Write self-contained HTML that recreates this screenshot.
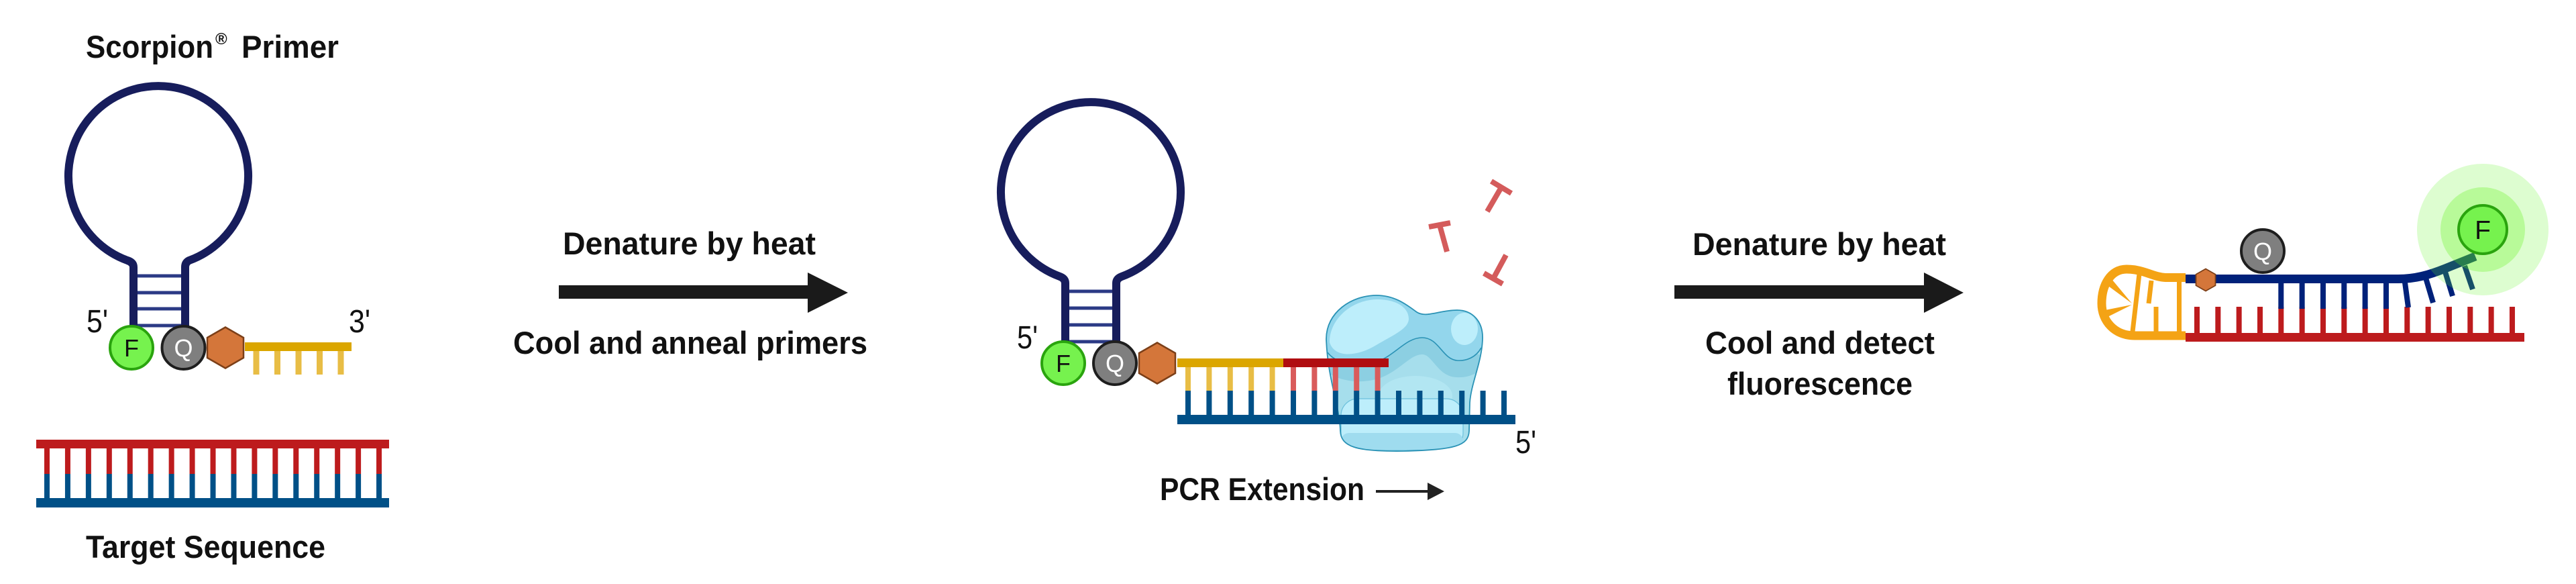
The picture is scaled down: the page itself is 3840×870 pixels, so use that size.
<!DOCTYPE html>
<html>
<head>
<meta charset="utf-8">
<style>
html,body{margin:0;padding:0;background:#ffffff;}
svg{display:block;}
.b{font-family:"Liberation Sans",Arial,sans-serif;font-weight:bold;fill:#111;}
.r{font-family:"Liberation Sans",Arial,sans-serif;fill:#111;}
</style>
</head>
<body>
<svg width="3840" height="870" viewBox="0 0 3840 870" xmlns="http://www.w3.org/2000/svg">
<rect width="3840" height="870" fill="#ffffff"/>
<defs>
<clipPath id="polyClip">
<path d="M1977,505 C1977,465 2015,440 2052,440 C2080,440 2098,455 2112,465 C2126,474 2146,462 2172,462 C2196,462 2211,480 2210,505 C2209,540 2193,570 2191,600 L2190,642 C2189,664 2170,670 2092,672 C2020,673 1999,665 1998,642 C1997,605 1979,565 1977,505 Z"/>
</clipPath>
</defs>

<!-- ================= LEFT: Scorpion primer ================= -->
<text class="b" x="128" y="86" font-size="47" textLength="190" lengthAdjust="spacingAndGlyphs">Scorpion</text>
<text class="b" x="321" y="66" font-size="24">®</text>
<text class="b" x="360" y="86" font-size="47" textLength="145" lengthAdjust="spacingAndGlyphs">Primer</text>

<!-- loop -->
<path d="M199,487 L199,398 Q199,391 190,388 A134,134 0 1 1 282,388 Q276,391 276,398 L276,487" fill="none" stroke="#171d5c" stroke-width="12" stroke-linejoin="round"/>
<g stroke="#2b3a85" stroke-width="5">
<line x1="205" y1="411" x2="270" y2="411"/>
<line x1="205" y1="436" x2="270" y2="436"/>
<line x1="205" y1="460" x2="270" y2="460"/>
<line x1="205" y1="485" x2="270" y2="485"/>
</g>
<text class="r" x="129" y="495" font-size="48" textLength="32" lengthAdjust="spacingAndGlyphs">5'</text>
<text class="r" x="520" y="495" font-size="48" textLength="32" lengthAdjust="spacingAndGlyphs">3'</text>

<!-- yellow primer strand -->
<rect x="365" y="510" width="159" height="13" fill="#dba600"/>
<line x1="377.5" y1="540.5" x2="513" y2="540.5" stroke="#e8bd45" stroke-width="35" stroke-dasharray="9 22.5"/>

<circle cx="196" cy="518" r="32" fill="#76f24e" stroke="#2aa40e" stroke-width="4"/>
<text class="r" x="196" y="531" font-size="36" text-anchor="middle" fill="#111">F</text>
<circle cx="273.5" cy="518" r="32" fill="#7f7f7f" stroke="#1e1e1e" stroke-width="4"/>
<text class="r" x="273.5" y="531" font-size="36" text-anchor="middle" style="fill:#ffffff">Q</text>
<polygon points="336,487.5 363,503 363,533 336,548.5 309,533 309,503" fill="#d4763a" stroke="#7c3f18" stroke-width="2.5"/>

<!-- target sequence -->
<rect x="54" y="655" width="526" height="13" fill="#bd1b1d"/>
<line x1="66" y1="687" x2="570" y2="687" stroke="#bd1b1d" stroke-width="38" stroke-dasharray="8 22.94"/>
<line x1="66" y1="724" x2="570" y2="724" stroke="#005087" stroke-width="36" stroke-dasharray="8 22.94"/>
<rect x="54" y="742" width="526" height="14" fill="#005087"/>
<text class="b" x="128" y="831" font-size="47" textLength="357" lengthAdjust="spacingAndGlyphs">Target Sequence</text>

<!-- ================= ARROW 1 ================= -->
<text class="b" x="839" y="379" font-size="47" textLength="377" lengthAdjust="spacingAndGlyphs">Denature by heat</text>
<rect x="833" y="425" width="373" height="20" fill="#1a1a1a"/>
<polygon points="1204,406 1264,436 1204,466" fill="#1a1a1a"/>
<text class="b" x="765" y="527" font-size="47" textLength="528" lengthAdjust="spacingAndGlyphs">Cool and anneal primers</text>

<!-- ================= MIDDLE ================= -->
<path d="M1588,510 L1588,422 Q1588,415 1580,412 A134,134 0 1 1 1672,412 Q1664,415 1664,422 L1664,510" fill="none" stroke="#171d5c" stroke-width="12" stroke-linejoin="round"/>
<g stroke="#2b3a85" stroke-width="5">
<line x1="1594" y1="434" x2="1658" y2="434"/>
<line x1="1594" y1="459" x2="1658" y2="459"/>
<line x1="1594" y1="484" x2="1658" y2="484"/>
<line x1="1594" y1="509" x2="1658" y2="509"/>
</g>
<text class="r" x="1516" y="519" font-size="48" textLength="31" lengthAdjust="spacingAndGlyphs">5'</text>

<!-- polymerase -->
<path d="M1977,505 C1977,465 2015,440 2052,440 C2080,440 2098,455 2112,465 C2126,474 2146,462 2172,462 C2196,462 2211,480 2210,505 C2209,540 2193,570 2191,600 L2190,642 C2189,664 2170,670 2092,672 C2020,673 1999,665 1998,642 C1997,605 1979,565 1977,505 Z" fill="#a6deec"/>
<g clip-path="url(#polyClip)">
<path d="M1979,537 C1990,552 2020,560 2050,552 C2080,542 2095,515 2120,515 C2145,515 2150,549 2172,549 C2185,550 2200,545 2208,530" fill="none" stroke="#8ccfe2" stroke-width="26"/>
<ellipse cx="2110" cy="590" rx="55" ry="30" fill="#b2e6f2"/>
<path d="M1977,505 C1977,465 2015,440 2052,440 C2080,440 2098,455 2112,465 C2126,474 2146,462 2172,462 C2196,462 2211,480 2210,505 L2208,518 C2200,533 2185,538 2172,537 C2150,535 2145,503 2120,503 C2095,503 2080,530 2050,540 C2020,548 1990,540 1979,525 Z" fill="#93d6ec"/>
<path d="M1982,510 C1982,475 2015,447 2052,446 C2085,446 2100,460 2100,475 C2100,490 2075,500 2050,515 C2025,530 1990,535 1982,510 Z" fill="#bdeefb"/>
<ellipse cx="2183" cy="490" rx="20" ry="24" fill="#bdeefb"/>
<rect x="1999" y="594" width="182" height="76" rx="25" fill="#bdeefb" stroke="#6cc0dc" stroke-width="1.2"/>
<rect x="1999" y="645" width="182" height="25" rx="12" fill="#9fdcef"/>
</g>
<path d="M2208,518 C2200,533 2185,538 2172,537 C2150,535 2145,503 2120,503 C2095,503 2080,530 2050,540 C2020,548 1990,540 1979,525" fill="none" stroke="#2a92b5" stroke-width="1.6"/>
<path d="M1977,505 C1977,465 2015,440 2052,440 C2080,440 2098,455 2112,465 C2126,474 2146,462 2172,462 C2196,462 2211,480 2210,505 C2209,540 2193,570 2191,600 L2190,642 C2189,664 2170,670 2092,672 C2020,673 1999,665 1998,642 C1997,605 1979,565 1977,505 Z" fill="none" stroke="#2a92b5" stroke-width="1.8"/>

<!-- middle DNA -->
<rect x="1755" y="534" width="158" height="13" fill="#dba600"/>
<rect x="1913" y="534" width="157" height="13" fill="#b00d10"/>
<line x1="1767" y1="564.5" x2="1900.6" y2="564.5" stroke="#e8bd45" stroke-width="35" stroke-dasharray="8 23.4"/>
<line x1="1924" y1="564.5" x2="2057.6" y2="564.5" stroke="#d95b5b" stroke-width="35" stroke-dasharray="8 23.4"/>
<line x1="1767" y1="600" x2="2246" y2="600" stroke="#005087" stroke-width="36" stroke-dasharray="8 23.4"/>
<rect x="1755" y="618" width="504" height="14" fill="#005087"/>
<text class="r" x="2259" y="675" font-size="48" textLength="31" lengthAdjust="spacingAndGlyphs">5'</text>

<circle cx="1585" cy="541" r="32" fill="#76f24e" stroke="#2aa40e" stroke-width="4"/>
<text class="r" x="1585" y="554" font-size="36" text-anchor="middle">F</text>
<circle cx="1662" cy="541" r="32" fill="#7f7f7f" stroke="#1e1e1e" stroke-width="4"/>
<text class="r" x="1662" y="554" font-size="36" text-anchor="middle" style="fill:#ffffff">Q</text>
<polygon points="1725,510.5 1752,526 1752,556 1725,571.5 1698,556 1698,526" fill="#d4763a" stroke="#7c3f18" stroke-width="2.5"/>

<!-- free nucleotides -->
<g stroke="#d45b5b" stroke-width="8">
<line x1="2223" y1="270" x2="2253" y2="288"/>
<line x1="2238" y1="279" x2="2217" y2="315"/>
<line x1="2130" y1="338" x2="2162" y2="332"/>
<line x1="2146" y1="335" x2="2157" y2="375"/>
<line x1="2212" y1="407" x2="2240" y2="423"/>
<line x1="2226" y1="415" x2="2245" y2="380"/>
</g>

<!-- PCR extension -->
<text class="b" x="1729" y="745" font-size="47" textLength="305" lengthAdjust="spacingAndGlyphs">PCR Extension</text>
<rect x="2051" y="730" width="80" height="4" fill="#222"/>
<polygon points="2128,719 2153,732 2128,745" fill="#222"/>

<!-- ================= ARROW 2 ================= -->
<text class="b" x="2523" y="380" font-size="47" textLength="378" lengthAdjust="spacingAndGlyphs">Denature by heat</text>
<rect x="2496" y="425" width="374" height="20" fill="#1a1a1a"/>
<polygon points="2868,406 2927,436 2868,466" fill="#1a1a1a"/>
<text class="b" x="2542" y="527" font-size="47" textLength="342" lengthAdjust="spacingAndGlyphs">Cool and detect</text>
<text class="b" x="2575" y="588" font-size="47" textLength="276" lengthAdjust="spacingAndGlyphs">fluorescence</text>

<!-- ================= RIGHT ================= -->
<!-- red target strand -->
<rect x="3258" y="496" width="505" height="13" fill="#bd1b1d"/>
<line x1="3271" y1="476.5" x2="3749" y2="476.5" stroke="#bd1b1d" stroke-width="39" stroke-dasharray="8 23.33"/>

<!-- orange hairpin -->
<g fill="none" stroke="#f4a315">
<path d="M3258,413.5 L3228,413.5 C3210,413 3196,401 3170,401 C3146,401 3133,425 3133,452 C3133,478 3152,500 3182,500 L3258,500" stroke-width="13"/>
<line x1="3248.5" y1="419" x2="3248.5" y2="494" stroke-width="7"/>
<line x1="3214" y1="457" x2="3214" y2="494" stroke-width="7"/>
<line x1="3207" y1="418" x2="3203" y2="452" stroke-width="7"/>
<line x1="3189" y1="408" x2="3179" y2="494" stroke-width="7"/>
</g>
<g fill="#f4a315">
<polygon points="3178,452 3140,424 3148,416"/>
<polygon points="3178,454 3138,462 3140,473"/>
</g>

<!-- navy probe strand -->
<path d="M3258,415.5 L3575,415.5 C3600,415.5 3620,410 3645,400 L3690,382" fill="none" stroke="#00217a" stroke-width="13"/>
<line x1="3396.3" y1="441" x2="3561" y2="441" stroke="#00217a" stroke-width="38" stroke-dasharray="8 23.33"/>
<g stroke="#00217a" stroke-width="8">
<line x1="3585" y1="421" x2="3590" y2="458"/>
<line x1="3616" y1="414" x2="3627" y2="451"/>
<line x1="3645" y1="405" x2="3656" y2="441"/>
<line x1="3674" y1="396" x2="3686" y2="431"/>
</g>
<polygon points="3288,400.5 3302.5,408.75 3302.5,425.25 3288,433.5 3273.5,425.25 3273.5,408.75" fill="#d4763a" stroke="#7c3f18" stroke-width="1.8"/>

<circle cx="3373" cy="374" r="32" fill="#7f7f7f" stroke="#1e1e1e" stroke-width="4"/>
<text class="r" x="3373" y="387" font-size="36" text-anchor="middle" style="fill:#ffffff">Q</text>

<!-- glow -->
<circle cx="3701" cy="342" r="98" fill="rgb(100,245,41)" fill-opacity="0.22"/>
<circle cx="3701" cy="342" r="63" fill="rgb(90,246,10)" fill-opacity="0.28"/>
<circle cx="3701" cy="342" r="36" fill="#76f24e" stroke="#2aa40e" stroke-width="4"/>
<text class="r" x="3701" y="356" font-size="39" text-anchor="middle">F</text>
</svg>
</body>
</html>
